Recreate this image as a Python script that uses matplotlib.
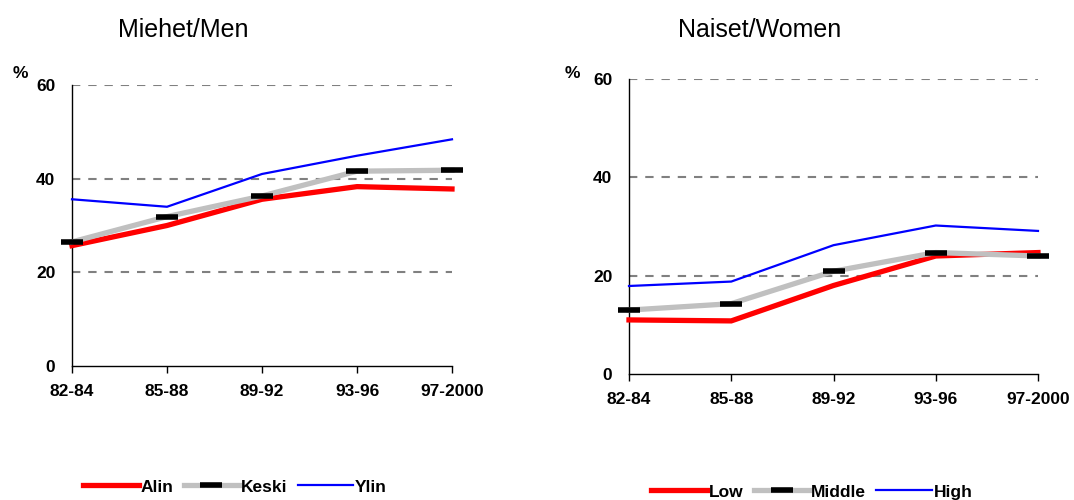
import matplotlib
matplotlib.use('Agg')
import matplotlib.pyplot as plt

plt.rcParams['font.family'] = ['Liberation Sans', 'DejaVu Sans']

# Categories (periods)
periods = ['82-84', '85-88', '89-92', '93-96', '97-2000']

# Men, %
men_low = [25.7, 30.0, 35.6, 38.3, 37.8]
men_mid = [26.5, 31.9, 36.3, 41.6, 41.8]
men_high = [35.6, 34.0, 41.0, 44.9, 48.4]

# Women, %
women_low = [11.0, 10.8, 18.0, 24.0, 24.7]
women_mid = [13.0, 14.3, 20.9, 24.7, 24.0]
women_high = [17.9, 18.8, 26.2, 30.2, 29.1]

yticks = [0, 20, 40, 60]

fig = plt.figure(figsize=(10.74, 5.0), dpi=100)

ax_men = fig.add_axes([72 / 1074, 1 - 366 / 500, 380 / 1074, 281 / 500])
ax_women = fig.add_axes([629 / 1074, 1 - 374 / 500, 409 / 1074, 295 / 500])


# Draw one panel
def draw_panel(ax, low, mid, high, labels):
    x = list(range(len(periods)))
    ax.plot(x, low, color='#ff0000', lw=3.8, solid_joinstyle='miter', label=labels[0], zorder=3)
    ax.plot(x, mid, color='#c0c0c0', lw=3.8, marker='_', markersize=16,
            markeredgewidth=4, markeredgecolor='black', label=labels[1], zorder=4)
    ax.plot(x, high, color='#0000ff', lw=1.6, label=labels[2], zorder=5)

    ax.set_xlim(0, 4)
    ax.set_ylim(0, 60)
    ax.set_xticks(x)
    ax.set_xticklabels(periods, fontsize=12.5, fontweight='bold')
    ax.set_yticks(yticks)
    ax.set_yticklabels([str(v) for v in yticks], fontsize=12.5, fontweight='bold')
    ax.tick_params(axis='x', direction='out', length=5, width=1, pad=8)
    ax.tick_params(axis='y', length=0, pad=12)
    for s in ['top', 'right']:
        ax.spines[s].set_visible(False)
    for s in ['left', 'bottom']:
        ax.spines[s].set_linewidth(1)
    ax.yaxis.grid(True, linestyle=(0, (4, 3.8)), color='#808080', lw=1.5)
    # no dashed line on the zero baseline
    ax.yaxis.get_major_ticks()[0].gridline.set_visible(False)
    ax.set_axisbelow(True)
    for ln in ax.lines:
        ln.set_clip_on(False)


draw_panel(ax_men, men_low, men_mid, men_high, ['Alin', 'Keski', 'Ylin'])
draw_panel(ax_women, women_low, women_mid, women_high, ['Low', 'Middle', 'High'])

fig.text(183 / 1074, 1 - 30 / 500, 'Miehet/Men', fontsize=18, ha='center', va='center')
fig.text(760 / 1074, 1 - 30 / 500, 'Naiset/Women', fontsize=18, ha='center', va='center')
fig.text(20 / 1074, 1 - 74 / 500, '%', fontsize=12.5, fontweight='bold', ha='center', va='center')
fig.text(572 / 1074, 1 - 73 / 500, '%', fontsize=12.5, fontweight='bold', ha='center', va='center')

leg_kw = dict(loc='center', ncol=3, frameon=False, numpoints=1, handlelength=3.2,
              handletextpad=0.1, columnspacing=0.6, borderaxespad=0,
              prop={'weight': 'bold', 'size': 12.5})
fig.legend(handles=ax_men.lines, bbox_to_anchor=(235 / 1074, 1 - 487 / 500), **leg_kw)
fig.legend(handles=ax_women.lines, bbox_to_anchor=(812 / 1074, 1 - 492 / 500), **leg_kw)

fig.savefig('out.png', dpi=100)
